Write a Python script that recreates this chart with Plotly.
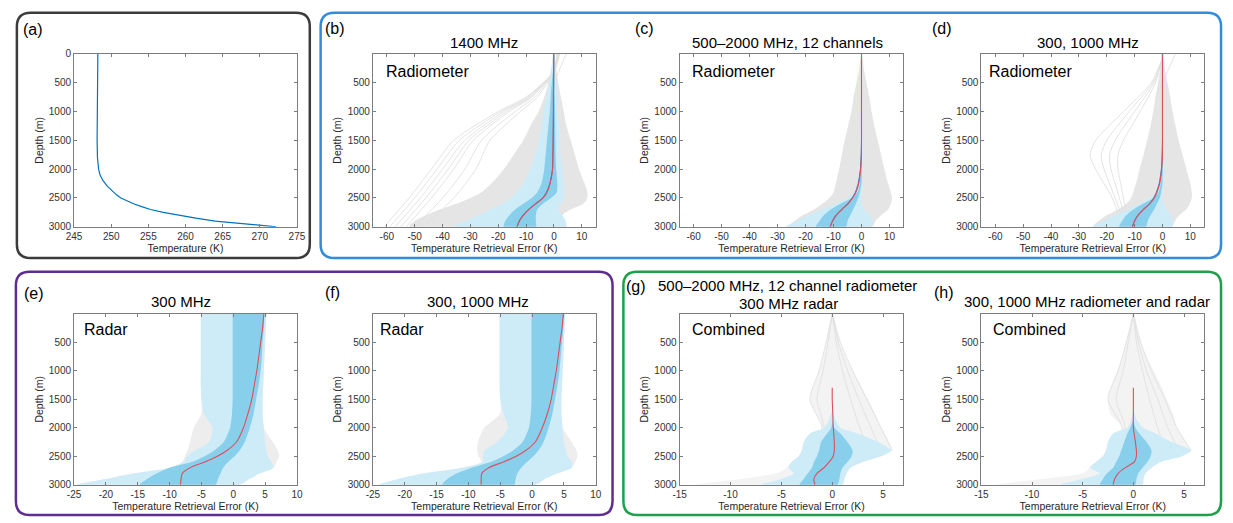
import plotly.graph_objects as go

W, H = 1233, 523


def px(x):
    return x / W


def py(y):
    return 1 - y / H


# ---------------- data ----------------
# (a) temperature profile
A_DEPTH = [0, 500, 1000, 1500, 1800, 2000, 2100, 2200, 2300, 2400, 2450, 2500, 2550, 2600, 2650, 2700, 2750, 2800, 2850, 2900, 2950, 3000]
A_TEMP = [248.2, 248.15, 248.1, 248.1, 248.15, 248.3, 248.5, 248.9, 249.5, 250.3, 250.75, 251.3, 252.1, 253.0, 254.1, 255.3, 257.0, 259.0, 261.4, 264.0, 267.8, 272.2]

DEPTH = [0, 250, 500, 750, 1000, 1250, 1500, 1750, 2000, 2250, 2400, 2500, 2600, 2700, 2800, 2900, 3000]

# (b) 1400 MHz radiometer
B_GRAY_L = [-0.3, -1, -2, -3.5, -5.5, -8.5, -11, -14.5, -18, -22.5, -26, -30, -35, -41, -46, -50, -52]
B_GRAY_R = [0.3, 0.8, 1.5, 2.5, 3.5, 4.5, 6, 7.5, 9, 11, 12, 12, 10.5, 6, 3, 4, 4.5]
B_LIGHT_L = [-0.2, -0.8, -1.6, -2.8, -3.8, -4.6, -5.4, -6.8, -8.6, -11, -13.5, -15.5, -18.5, -23, -27, -31.5, -36]
B_LIGHT_R = [0.2, 0.5, 0.8, 1.1, 1.4, 1.7, 2.0, 2.4, 3.0, 3.6, 3.8, 3.6, 2.5, 1.5, 3, 4.2, 4]
B_DARK_L = [-0.1, -0.3, -0.8, -1.2, -1.5, -2, -2.5, -3, -3.5, -4.5, -6, -8, -11, -14, -16, -17.5, -18]
B_DARK_R = [0.1, 0.15, 0.2, 0.3, 0.4, 0.45, 0.5, 0.6, 0.8, 1.2, 1.0, -1, -4, -6, -6.5, -6.5, -6.5]
B_MEAN = [-0.1, -0.1, -0.15, -0.2, -0.2, -0.25, -0.3, -0.4, -0.55, -1.5, -2.7, -4.1, -6.7, -9.2, -11.2, -12.5, -13.3]
B_MED = [-0.1, -0.1, -0.15, -0.2, -0.2, -0.25, -0.3, -0.4, -0.5, -1.4, -2.5, -3.9, -6.5, -9, -11, -12.4, -13.3]
FAN_DEPTH = [0, 300, 750, 1000, 1500, 2000, 2500, 3000]
B_FAN_1 = [2, 0, -10, -20, -36, -44, -52, -61]
B_FAN_2 = [1.9, 0, -9.5, -19, -34, -42, -50, -59]
B_FAN_3 = [1.8, 0, -9, -18, -32, -40, -48, -57]
B_FAN_4 = [1.6, 0, -8.5, -17, -30.5, -38, -46, -55]
B_FAN_5 = [1.5, 0, -8, -16, -29, -36, -44, -53]
B_FAN_6 = [1.2, 0, -7, -14, -26, -32, -40, -50]
B_FAN_7 = [1, 0, -6, -12, -23, -28, -36, -47]
CROSS_DEPTH = [0, 250, 500, 750]
B_CROSS = [4.4, 2.2, 0, -2.5]

# (c) 500-2000 MHz, 12 channels radiometer
C_GRAY_L = [-0.2, -0.8, -1.8, -2.8, -3.6, -4.8, -6, -7, -8, -9.2, -10, -11.5, -14, -17, -21, -24, -26]
C_GRAY_R = [0.2, 0.8, 1.8, 2.8, 3.6, 4.6, 5.8, 7, 8.2, 9.5, 10.5, 10.9, 10.5, 9.5, 7, 5, 3.8]
C_LIGHT_L = [-0.1, -0.1, -0.15, -0.2, -0.2, -0.25, -0.3, -0.3, -0.4, -1, -2.5, -5, -9, -14, -19, -23, -27]
C_LIGHT_R = [0.1, 0.1, 0.15, 0.2, 0.2, 0.25, 0.3, 0.3, 0.3, 0.3, 0.1, 0, 0, 1, 3, 4, 3.5]
C_DARK_L = [-0.05, -0.05, -0.1, -0.1, -0.1, -0.15, -0.15, -0.2, -0.3, -0.6, -1.5, -3.5, -7.5, -11, -13.5, -15, -16.3]
C_DARK_R = [0.05, 0.05, 0.1, 0.1, 0.1, 0.1, 0.1, 0.1, 0.1, 0, -0.6, -1.2, -2, -3, -4, -5, -5.5]
C_MEAN = [0, 0, 0, 0, 0, 0, 0, -0.1, -0.4, -1.2, -2.2, -3.4, -5.0, -7.2, -9.2, -10.4, -11.2]
C_MED = [0, 0, 0, 0, 0, 0, 0, -0.05, -0.3, -1, -2, -3.2, -4.8, -7, -9, -10.3, -11.2]

# (d) 300, 1000 MHz radiometer
D_GRAY_L = [-0.3, -0.8, -1.6, -2.5, -3.3, -4.3, -5.5, -6.8, -8.2, -9.5, -10.5, -11.3, -13, -16, -20, -23, -25]
D_GRAY_R = [0.3, 0.8, 1.8, 2.8, 3.6, 4.7, 5.8, 7.2, 8.6, 10, 10.5, 10.5, 9.8, 8.5, 6, 4.5, 3.4]
D_LIGHT_L = [-0.1, -0.1, -0.15, -0.2, -0.2, -0.25, -0.3, -0.3, -0.4, -1, -2.5, -4.5, -8, -12.5, -17, -21, -25]
D_LIGHT_R = [0.1, 0.1, 0.15, 0.2, 0.2, 0.25, 0.3, 0.3, 0.3, 0.3, 0.2, 0, 0.5, 1.5, 3, 3.8, 3.4]
D_DARK_L = [-0.05, -0.05, -0.1, -0.1, -0.1, -0.15, -0.15, -0.2, -0.3, -0.6, -1.5, -3.2, -7, -10.5, -13, -14.5, -15.5]
D_DARK_R = [0.05, 0.05, 0.1, 0.1, 0.1, 0.1, 0.1, 0.1, 0.1, 0, -0.5, -1, -2, -3, -4.3, -5.3, -6]
D_MEAN = [0, 0, 0, 0, 0, 0, 0, -0.1, -0.4, -1.2, -2.2, -3.2, -4.7, -7.0, -8.9, -10.1, -10.8]
D_MED = [0, 0, 0, 0, 0, 0, 0, -0.05, -0.3, -1, -2, -3, -4.5, -6.8, -8.7, -10, -10.8]
OUT_DEPTH = [0, 500, 1000, 1500, 1750, 2000, 2250, 2500, 2750]
D_OUT_1 = [0.5, -4, -14, -24, -26, -24, -21, -18, -16]
D_OUT_2 = [0.5, -3.5, -12, -20, -22, -21, -19, -17, -15]
D_OUT_3 = [0.4, -3, -10, -17, -19, -18.5, -17, -15.5, -14]
D_OUT_4 = [0.3, -2.5, -8, -14, -16, -16, -15, -14, -13]
D_CROSS = [4.6, 2.3, 0, -2.5]

# (e) 300 MHz radar
E_GRAY_L = [-5.1, -5.1, -5.1, -5.1, -5.1, -5.1, -5.0, -5.0, -6.2, -6.8, -7.2, -7.6, -8, -10, -15.5, -20, -24.5]
E_GRAY_R = [5.2, 5.1, 5, 4.9, 4.8, 4.7, 4.6, 4.6, 4.8, 6.2, 7.0, 7.2, 6.8, 6.3, 4.2, 2.5, 1]
E_LIGHT_L = [-5.1, -5.1, -5.1, -5.1, -5.1, -5.1, -5.0, -4.6, -3.3, -3.8, -6, -7.3, -7.8, -10, -15.5, -20, -24.5]
E_LIGHT_R = [5.2, 5.1, 5, 4.9, 4.8, 4.7, 4.6, 4.6, 4.8, 5.0, 5.2, 5.4, 6.0, 6.3, 4.2, 2.5, 1]
E_DARK_L = [-0.1, -0.1, -0.1, -0.1, -0.1, -0.1, -0.1, -0.2, -0.5, -1.5, -3, -4.5, -6.5, -10, -12, -13.5, -14.7]
E_DARK_R = [4.9, 4.8, 4.6, 4.5, 4.3, 4.0, 3.6, 3.2, 2.6, 1.8, 1.0, 0.2, -0.8, -1.6, -2.0, -2.4, -2.8]
E_MED = [4.8, 4.6, 4.3, 4.0, 3.7, 3.3, 2.9, 2.3, 1.6, 0.5, -1, -2.5, -4.5, -6.8, -8, -8.2, -8.3]

# (f) 300, 1000 MHz radar
F_GRAY_L = [-5.1, -5.1, -5.1, -5.1, -5.1, -5.1, -5.0, -5.0, -7.5, -8.5, -8.6, -8.4, -8, -11, -17, -21, -24]
F_GRAY_R = [5.2, 5.1, 5, 4.9, 4.8, 4.7, 4.6, 4.6, 4.8, 6.2, 7.0, 7.1, 6.8, 6.2, 4, 2, 0.5]
F_LIGHT_L = [-5.1, -5.1, -5.1, -5.1, -5.1, -5.1, -5.0, -4.5, -3.8, -5.5, -7.5, -7.7, -7.7, -11, -17, -21, -24]
F_LIGHT_R = [5.2, 5.1, 5, 4.9, 4.8, 4.7, 4.6, 4.6, 4.8, 5.0, 5.3, 5.5, 6.3, 6.2, 4, 2, 0.5]
F_DARK_L = [-0.1, -0.1, -0.1, -0.1, -0.1, -0.1, -0.1, -0.2, -0.5, -1.5, -3, -4.5, -6.5, -9.5, -11.8, -13.3, -14.1]
F_DARK_R = [5.0, 4.9, 4.7, 4.5, 4.3, 4.0, 3.6, 3.2, 2.6, 1.8, 1.0, 0.2, -0.8, -1.7, -2.3, -2.6, -2.8]
F_MED = [4.9, 4.7, 4.4, 4.1, 3.8, 3.4, 3.0, 2.4, 1.6, 0.5, -1, -2.5, -4.5, -6.8, -7.9, -8.0, -8.0]

# (g) combined 500-2000 MHz radiometer + 300 MHz radar
BAND_DEPTH = [1700, 1850, 2000, 2100, 2250, 2400, 2500, 2600, 2700, 2800, 2900, 3000]
MED_DEPTH = [1300, 1500, 1750, 2000, 2250, 2400, 2500, 2600, 2700, 2800, 2900, 3000]
CONE_DEPTH = [0, 500, 1000, 1500, 2000, 2400]
G_GRAY_L = [0, -0.3, -0.6, -0.9, -1.3, -1.8, -2.2, -1.6, -1.0, -2.8, -3, -3.3, -4, -4.5, -5.5, -9, -13.5]
G_GRAY_R = [0.1, 0.4, 0.8, 1.3, 2, 2.8, 3.5, 4.2, 4.8, 5.6, 5.9, 4.8, 3, 1.8, 1.4, 1.2, 1]
G_CONE_1 = [0, -0.6, -1.3, -2.2, -1.0, -1.5]
G_CONE_2 = [0, -0.4, -0.9, -1.5, -0.8, -1.2]
G_CONE_3 = [0, 0.8, 2.0, 3.4, 4.8, 5.9]
G_CONE_4 = [0, 0.6, 1.5, 2.6, 3.8, 4.8]
G_CONE_5 = [0, 0.4, 1.0, 1.8, 2.7, 3.6]
G_LIGHT_L = [0, -0.3, -0.8, -2.2, -2.8, -3, -3.3, -4, -4.3, -3.8, -5, -7]
G_LIGHT_R = [0, 0.3, 0.8, 2.5, 4.5, 5.8, 4.8, 3, 1.8, 1.4, 1.2, 1]
G_DARK_L = [0, 0, -0.1, -0.5, -1.1, -1.3, -1.5, -1.8, -2, -2.4, -2.8, -3.2]
G_DARK_R = [0, 0, 0.2, 0.8, 1.5, 2, 1.9, 1.5, 1, 0.8, 0.7, 0.5]
G_MED = [0, 0, 0.05, 0.1, 0.2, 0.2, 0.1, -0.3, -0.8, -1.5, -1.8, -1.7]

# (h) combined 300, 1000 MHz radiometer and radar
H_GRAY_L = [0, -0.3, -0.7, -1.1, -1.6, -2.1, -2.5, -2.3, -1.1, -2.4, -2.7, -3.0, -3.7, -4.3, -5, -9, -13.5]
H_GRAY_R = [0.1, 0.4, 0.8, 1.3, 2, 2.7, 3.3, 3.9, 4.3, 5.2, 5.7, 4.8, 2.7, 1.8, 1.2, 1, 0.9]
H_CONE_1 = [0, -0.7, -1.5, -2.5, -1.1, -1.5]
H_CONE_2 = [0, -0.5, -1.0, -1.7, -0.8, -1.2]
H_CONE_3 = [0, 0.7, 1.8, 3.1, 4.3, 5.7]
H_CONE_4 = [0, 0.5, 1.3, 2.4, 3.4, 4.5]
H_CONE_5 = [0, 0.3, 0.9, 1.6, 2.4, 3.2]
H_LIGHT_L = [0, -0.2, -0.6, -2.0, -2.5, -2.7, -3.0, -3.7, -4.3, -3.3, -5, -7.2]
H_LIGHT_R = [0, 0.3, 1.0, 2.2, 3.8, 5.7, 4.8, 2.7, 1.8, 1.2, 1.0, 0.9]
H_DARK_L = [0, 0, -0.3, -0.6, -0.9, -1.2, -1.4, -1.7, -2, -2.6, -3, -3.3]
H_DARK_R = [0, 0, 0.2, 0.6, 1.3, 1.8, 1.7, 1.4, 0.9, 0.5, 0.3, 0.2]
H_MED = [0, 0, 0, 0, 0.2, 0.3, 0.3, 0.1, -0.8, -1.5, -1.85, -2.0]

# ticks
A_XTICKS = [245, 250, 255, 260, 265, 270, 275]
A_YTICKS = [0, 500, 1000, 1500, 2000, 2500, 3000]
YTICKS = [500, 1000, 1500, 2000, 2500, 3000]
RAD_XTICKS = [-60, -50, -40, -30, -20, -10, 0, 10]
RADAR_XTICKS = [-25, -20, -15, -10, -5, 0, 5, 10]
COMB_XTICKS = [-15, -10, -5, 0, 5]

# ---------------- style ----------------
FONT = "Liberation Sans, Arial, Helvetica, sans-serif"
GRAY_FILL = "rgb(229,229,229)"
GRAY_FILL_LIGHT = "rgb(237,237,237)"
GRAY_FILL_CONE = "rgb(243,243,243)"
GRAY_LINE = "rgb(224,224,224)"
LIGHT = "rgb(206,236,248)"
DARK = "rgb(136,207,236)"
RED = "rgb(222,78,92)"
BLUE = "rgb(60,120,190)"
AX_COLOR = "rgb(125,125,125)"
TICK_FONT = dict(family=FONT, size=10, color="rgb(50,50,50)")

fig = go.Figure()

XDOM = [(67, 293), (370, 596), (681, 908), (987, 1213)]
YDOM = [(49, 226), (315, 490)]


def ax_id(i):
    return "" if i == 1 else str(i)


def band(i, depth, left, right, color, shape="spline"):
    xs = list(left) + list(right)[::-1]
    ys = list(depth) + list(depth)[::-1]
    fig.add_trace(go.Scatter(x=xs, y=ys, fill="toself", fillcolor=color, mode="lines",
                             line=dict(width=0, color=color, shape=shape, smoothing=0.7),
                             xaxis="x" + ax_id(i), yaxis="y" + ax_id(i),
                             hoverinfo="skip", showlegend=False))


def line(i, x, y, color, width, shape="spline"):
    fig.add_trace(go.Scatter(x=x, y=y, mode="lines",
                             line=dict(color=color, width=width, shape=shape, smoothing=0.7),
                             xaxis="x" + ax_id(i), yaxis="y" + ax_id(i),
                             hoverinfo="skip", showlegend=False))


# (a)
line(1, A_TEMP, A_DEPTH, "rgb(0,114,189)", 1.2, shape="linear")

# (b)
band(2, DEPTH, B_GRAY_L, B_GRAY_R, GRAY_FILL)
for fan in [B_FAN_1, B_FAN_2, B_FAN_3, B_FAN_4, B_FAN_5, B_FAN_6, B_FAN_7]:
    line(2, fan, FAN_DEPTH, GRAY_LINE, 0.9)
line(2, B_CROSS, CROSS_DEPTH, GRAY_LINE, 0.9)
band(2, DEPTH, B_LIGHT_L, B_LIGHT_R, LIGHT)
band(2, DEPTH, B_DARK_L, B_DARK_R, DARK)
line(2, B_MEAN, DEPTH, BLUE, 1.0)
line(2, B_MED, DEPTH, RED, 1.1)

# (c)
band(3, DEPTH, C_GRAY_L, C_GRAY_R, GRAY_FILL)
band(3, DEPTH, C_LIGHT_L, C_LIGHT_R, LIGHT)
band(3, DEPTH, C_DARK_L, C_DARK_R, DARK)
line(3, C_MEAN, DEPTH, BLUE, 1.0)
line(3, C_MED, DEPTH, RED, 1.1)

# (d)
band(4, DEPTH, D_GRAY_L, D_GRAY_R, GRAY_FILL)
for out in [D_OUT_1, D_OUT_2, D_OUT_3, D_OUT_4]:
    line(4, out, OUT_DEPTH, GRAY_LINE, 0.9)
line(4, D_CROSS, CROSS_DEPTH, GRAY_LINE, 0.9)
band(4, DEPTH, D_LIGHT_L, D_LIGHT_R, LIGHT)
band(4, DEPTH, D_DARK_L, D_DARK_R, DARK)
line(4, D_MEAN, DEPTH, BLUE, 1.0)
line(4, D_MED, DEPTH, RED, 1.1)

# (e)
band(5, DEPTH, E_GRAY_L, E_GRAY_R, GRAY_FILL_LIGHT)
band(5, DEPTH, E_LIGHT_L, E_LIGHT_R, LIGHT)
band(5, DEPTH, E_DARK_L, E_DARK_R, DARK)
line(5, E_MED, DEPTH, RED, 1.1)

# (f)
band(6, DEPTH, F_GRAY_L, F_GRAY_R, GRAY_FILL_LIGHT)
band(6, DEPTH, F_LIGHT_L, F_LIGHT_R, LIGHT)
band(6, DEPTH, F_DARK_L, F_DARK_R, DARK)
line(6, F_MED, DEPTH, RED, 1.1)

# (g)
band(7, DEPTH, G_GRAY_L, G_GRAY_R, GRAY_FILL_CONE)
for cone in [G_CONE_1, G_CONE_2, G_CONE_3, G_CONE_4, G_CONE_5]:
    line(7, cone, CONE_DEPTH, GRAY_LINE, 0.9)
band(7, BAND_DEPTH, G_LIGHT_L, G_LIGHT_R, LIGHT)
band(7, BAND_DEPTH, G_DARK_L, G_DARK_R, DARK)
line(7, G_MED, MED_DEPTH, RED, 1.1)

# (h)
band(8, DEPTH, H_GRAY_L, H_GRAY_R, GRAY_FILL_CONE)
for cone in [H_CONE_1, H_CONE_2, H_CONE_3, H_CONE_4, H_CONE_5]:
    line(8, cone, CONE_DEPTH, GRAY_LINE, 0.9)
band(8, BAND_DEPTH, H_LIGHT_L, H_LIGHT_R, LIGHT)
band(8, BAND_DEPTH, H_DARK_L, H_DARK_R, DARK)
line(8, H_MED, MED_DEPTH, RED, 1.1)


# ---------------- axes ----------------
def tick_text(vals):
    return [str(v) for v in vals]


panel_axes = [
    # (idx, col, row, xrange, xticks, xtitle, yticks)
    (1, 0, 0, [245, 275], A_XTICKS, "Temperature (K)", A_YTICKS),
    (2, 1, 0, [-65, 15], RAD_XTICKS, "Temperature Retrieval Error (K)", YTICKS),
    (3, 2, 0, [-65, 15], RAD_XTICKS, "Temperature Retrieval Error (K)", YTICKS),
    (4, 3, 0, [-65, 15], RAD_XTICKS, "Temperature Retrieval Error (K)", YTICKS),
    (5, 0, 1, [-25, 10], RADAR_XTICKS, "Temperature Retrieval Error (K)", YTICKS),
    (6, 1, 1, [-25, 10], RADAR_XTICKS, "Temperature Retrieval Error (K)", YTICKS),
    (7, 2, 1, [-15, 7], COMB_XTICKS, "Temperature Retrieval Error (K)", YTICKS),
    (8, 3, 1, [-15, 7], COMB_XTICKS, "Temperature Retrieval Error (K)", YTICKS),
]

layout_axes = {}
for idx, col, row, xr, xt, xtitle, yt in panel_axes:
    x0, x1 = XDOM[col]
    y0, y1 = YDOM[row]
    common = dict(showline=True, linecolor=AX_COLOR, linewidth=1, mirror="ticks",
                  ticks="inside", ticklen=3, tickcolor=AX_COLOR, tickwidth=1,
                  showgrid=False, zeroline=False, tickfont=TICK_FONT, fixedrange=True)
    layout_axes["xaxis" + ax_id(idx)] = dict(
        domain=[px(x0), px(x1)], range=xr, anchor="y" + ax_id(idx),
        tickvals=xt, ticktext=tick_text(xt),
        title=dict(text=xtitle, font=dict(family=FONT, size=10.5, color="rgb(40,40,40)"), standoff=2),
        **common)
    layout_axes["yaxis" + ax_id(idx)] = dict(
        domain=[py(y1), py(y0)], range=[3000, 0], anchor="x" + ax_id(idx),
        tickvals=yt, ticktext=tick_text(yt),
        title=dict(text="Depth (m)", font=dict(family=FONT, size=10.5, color="rgb(40,40,40)"), standoff=3),
        **common)


# ---------------- annotations ----------------
def ann(text, x, y, size, xanchor="center", color="black"):
    return dict(text=text, x=px(x), y=py(y), xref="paper", yref="paper", showarrow=False,
                xanchor=xanchor, yanchor="middle", font=dict(family=FONT, size=size, color=color))


annotations = [
    ann("(a)", 25, 24, 16), ann("(b)", 332, 23, 16), ann("(c)", 645, 23, 16), ann("(d)", 947, 23, 16),
    ann("(e)", 26, 294, 16), ann("(f)", 329, 293, 16), ann("(g)", 637, 287, 16), ann("(h)", 949, 293, 16),
    ann("1400 MHz", 483, 37, 15),
    ann("500–2000 MHz, 12 channels", 790, 37, 15),
    ann("300, 1000 MHz", 1095, 37, 15),
    ann("300 MHz", 175, 302, 15),
    ann("300, 1000 MHz", 477, 302, 15),
    ann("500–2000 MHz, 12 channel radiometer", 790, 286, 15),
    ann("300 MHz radar", 791, 304, 15),
    ann("300, 1000 MHz radiometer and radar", 1094, 302, 15),
    ann("Radiometer", 381, 67, 16, "left"),
    ann("Radiometer", 692, 67, 16, "left"),
    ann("Radiometer", 993, 67, 16, "left"),
    ann("Radar", 75, 331, 16, "left"),
    ann("Radar", 375, 331, 16, "left"),
    ann("Combined", 692, 331, 16, "left"),
    ann("Combined", 997, 331, 16, "left"),
]


# ---------------- frames ----------------
def rrect(x0, y0, x1, y1, r, color):
    pts = [
        ("M", (x0 + r, y0)), ("L", (x1 - r, y0)), ("Q", (x1, y0), (x1, y0 + r)),
        ("L", (x1, y1 - r)), ("Q", (x1, y1), (x1 - r, y1)), ("L", (x0 + r, y1)),
        ("Q", (x0, y1), (x0, y1 - r)), ("L", (x0, y0 + r)), ("Q", (x0, y0), (x0 + r, y0)),
    ]
    parts = []
    for p in pts:
        cmd = p[0]
        coords = " ".join(f"{px(a):.5f},{py(b):.5f}" for a, b in p[1:])
        parts.append(f"{cmd} {coords}")
    path = " ".join(parts) + " Z"
    return dict(type="path", path=path, xref="paper", yref="paper",
                line=dict(color=color, width=2.5), layer="above")


shapes = [
    rrect(9, 7, 306, 258, 14, "rgb(60,60,60)"),
    rrect(317, 7, 1230, 258, 14, "rgb(50,140,220)"),
    rrect(8, 272, 613, 521, 14, "rgb(95,45,145)"),
    rrect(624, 272, 1230, 521, 14, "rgb(30,160,75)"),
]

fig.update_layout(
    width=W, height=H, margin=dict(l=0, r=0, t=0, b=0),
    paper_bgcolor="white", plot_bgcolor="white",
    showlegend=False, annotations=annotations, shapes=shapes,
    font=dict(family=FONT),
    **layout_axes,
)

fig.write_html("out.html", config={"displayModeBar": False})
